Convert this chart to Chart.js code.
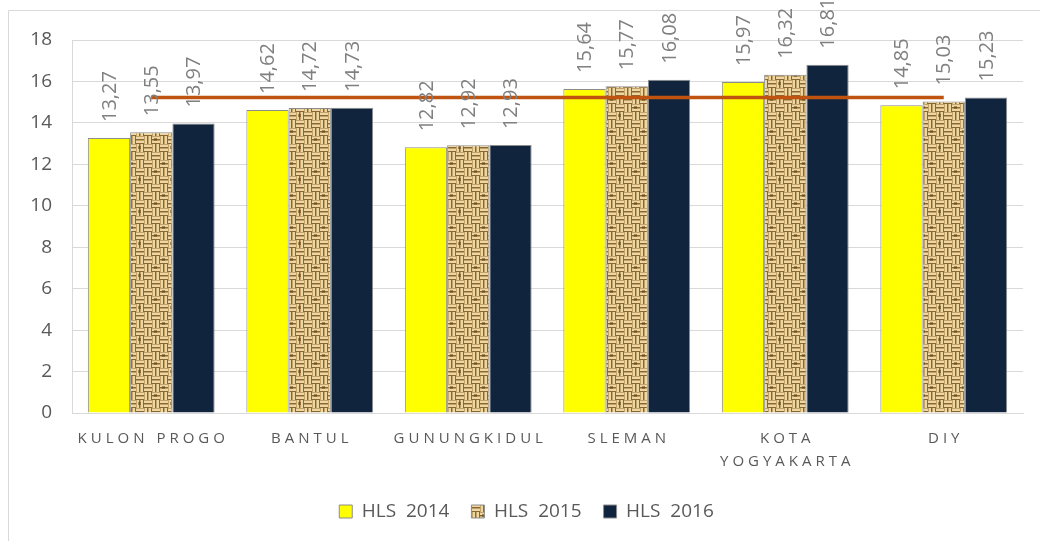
<!DOCTYPE html>
<html>
<head>
<meta charset="utf-8">
<script src="https://cdn.jsdelivr.net/npm/chart.js@4.4.1/dist/chart.umd.min.js"></script>
<style>
html,body{margin:0;padding:0;background:#fff;}
#wrap{position:absolute;left:0;top:0;width:1040px;height:541px;}
</style>
</head>
<body>
<div id="wrap"><canvas id="c" width="1040" height="541"></canvas></div>
<script>
const categories = [["KULON PROGO"], ["BANTUL"], ["GUNUNGKIDUL"], ["SLEMAN"], ["KOTA", "YOGYAKARTA"], ["DIY"]];
const hls2014 = [13.27, 14.62, 12.82, 15.64, 15.97, 14.85];
const hls2015 = [13.55, 14.72, 12.92, 15.77, 16.32, 15.03];
const hls2016 = [13.97, 14.73, 12.93, 16.08, 16.81, 15.23];
const diyLine = [15.23, 15.23, 15.23, 15.23, 15.23, 15.23];
const seriesNames = ["HLS  2014", "HLS  2015", "HLS  2016"];
const yTicks = [0, 2, 4, 6, 8, 10, 12, 14, 16, 18];

function makeBurlap() {
  const s = 32, cell = 8;
  const pc = document.createElement('canvas');
  pc.width = s; pc.height = s;
  const g = pc.getContext('2d');
  g.fillStyle = '#c3a266';
  g.fillRect(0, 0, s, s);
  for (let i = 0; i < s / cell; i++) {
    for (let j = 0; j < s / cell; j++) {
      const x = i * cell, y = j * cell;
      const horiz = (i + j) % 2 === 0;
      for (let k = 0; k < 2; k++) {
        const o = k * 4;
        if (horiz) {
          g.fillStyle = '#ecd7a4'; g.fillRect(x, y + o + 1, cell, 2);
          g.fillStyle = '#8a6632'; g.fillRect(x, y + o + 3, cell, 1);
        } else {
          g.fillStyle = '#ecd7a4'; g.fillRect(x + o + 1, y, 2, cell);
          g.fillStyle = '#8a6632'; g.fillRect(x + o + 3, y, 1, cell);
        }
      }
      if ((i * 3 + j) % 5 === 0) {
        g.fillStyle = 'rgba(90,60,20,0.5)';
        g.fillRect(x + 2, y + 2, 3, 3);
      }
    }
  }
  return g.createPattern(pc, 'repeat');
}

const ctx = document.getElementById('c').getContext('2d');
const burlap = makeBurlap();
const FONT = "'Open Sans', 'Liberation Sans', sans-serif";

const framePlugin = {
  id: 'frame',
  beforeDraw(chart) {
    const c = chart.ctx;
    c.save();
    c.fillStyle = '#fff';
    c.fillRect(0, 0, chart.width, chart.height);
    c.strokeStyle = '#d9d9d9';
    c.lineWidth = 1;
    c.beginPath();
    c.moveTo(8.5, chart.height);
    c.lineTo(8.5, 10.5);
    c.lineTo(chart.width, 10.5);
    c.stroke();
    c.restore();
  }
};

const labelPlugin = {
  id: 'barLabels',
  afterDatasetsDraw(chart) {
    const c = chart.ctx;
    c.save();
    c.font = "20px " + FONT;
    c.fillStyle = '#808080';
    c.textAlign = 'left';
    c.textBaseline = 'middle';
    [0, 1, 2].forEach(di => {
      const meta = chart.getDatasetMeta(di);
      const data = chart.data.datasets[di].data;
      meta.data.forEach((bar, i) => {
        const txt = data[i].toFixed(2).replace('.', ',');
        c.save();
        c.translate(bar.x + 1, bar.y - 16);
        c.rotate(-Math.PI / 2);
        c.fillText(txt, 0, 0);
        c.restore();
      });
    });
    c.restore();
  },
  afterDraw(chart) {
    const c = chart.ctx;
    const xs = chart.scales.x;
    c.save();
    c.font = "15px " + FONT;
    c.fillStyle = '#595959';
    c.textAlign = 'center';
    c.textBaseline = 'alphabetic';
    if ('letterSpacing' in c) c.letterSpacing = '4px';
    categories.forEach((lines, i) => {
      const x = xs.getPixelForValue(i) + 2;
      lines.forEach((ln, k) => {
        c.fillText(ln, x, chart.chartArea.bottom + 30 + k * 23);
      });
    });
    c.restore();
  }
};

new Chart(ctx, {
  data: {
    labels: categories.map(l => l.join(' ')),
    datasets: [
      { type: 'bar', label: seriesNames[0], data: hls2014, backgroundColor: '#ffff00', borderColor: '#8c8c8c', borderWidth: 1, order: 2 },
      { type: 'bar', label: seriesNames[1], data: hls2015, backgroundColor: burlap, borderColor: '#8c8c8c', borderWidth: 1, order: 2 },
      { type: 'bar', label: seriesNames[2], data: hls2016, backgroundColor: '#10243e', borderColor: '#8c8c8c', borderWidth: 1, order: 2 },
      { type: 'line', label: 'DIY', data: diyLine, borderColor: '#c0530f', borderWidth: 3.5, pointRadius: 0, fill: false, order: 1 }
    ]
  },
  options: {
    responsive: false,
    animation: false,
    events: [],
    layout: { padding: { left: 30, right: 17, top: 40, bottom: 10 } },
    datasets: { bar: { categoryPercentage: 0.8, barPercentage: 1.0 } },
    scales: {
      x: {
        grid: { display: false, drawTicks: false },
        border: { display: true, color: '#d9d9d9' },
        ticks: { display: false },
        afterFit(scale) { scale.height = 67; }
      },
      y: {
        min: 0, max: 18,
        afterBuildTicks(scale) { scale.ticks = yTicks.map(v => ({ value: v })); },
        grid: { color: '#d9d9d9', drawTicks: false, lineWidth: 1 },
        border: { display: true, color: '#d9d9d9' },
        ticks: { color: '#595959', font: { size: 19, family: FONT }, padding: 20 },
        afterFit(scale) { scale.width = 42; }
      }
    },
    plugins: {
      tooltip: { enabled: false },
      legend: {
        position: 'bottom',
        labels: {
          color: '#595959',
          font: { size: 19, family: FONT },
          boxWidth: 13, boxHeight: 13,
          padding: 22,
          filter: (item) => item.datasetIndex < 3,
          generateLabels(chart) {
            return chart.data.datasets.slice(0, 3).map((ds, i) => ({
              text: ds.label,
              fillStyle: ds.backgroundColor,
              strokeStyle: '#8c8c8c',
              lineWidth: 1,
              datasetIndex: i,
              fontColor: '#595959'
            }));
          }
        }
      }
    }
  },
  plugins: [framePlugin, labelPlugin]
});
</script>
</body>
</html>
